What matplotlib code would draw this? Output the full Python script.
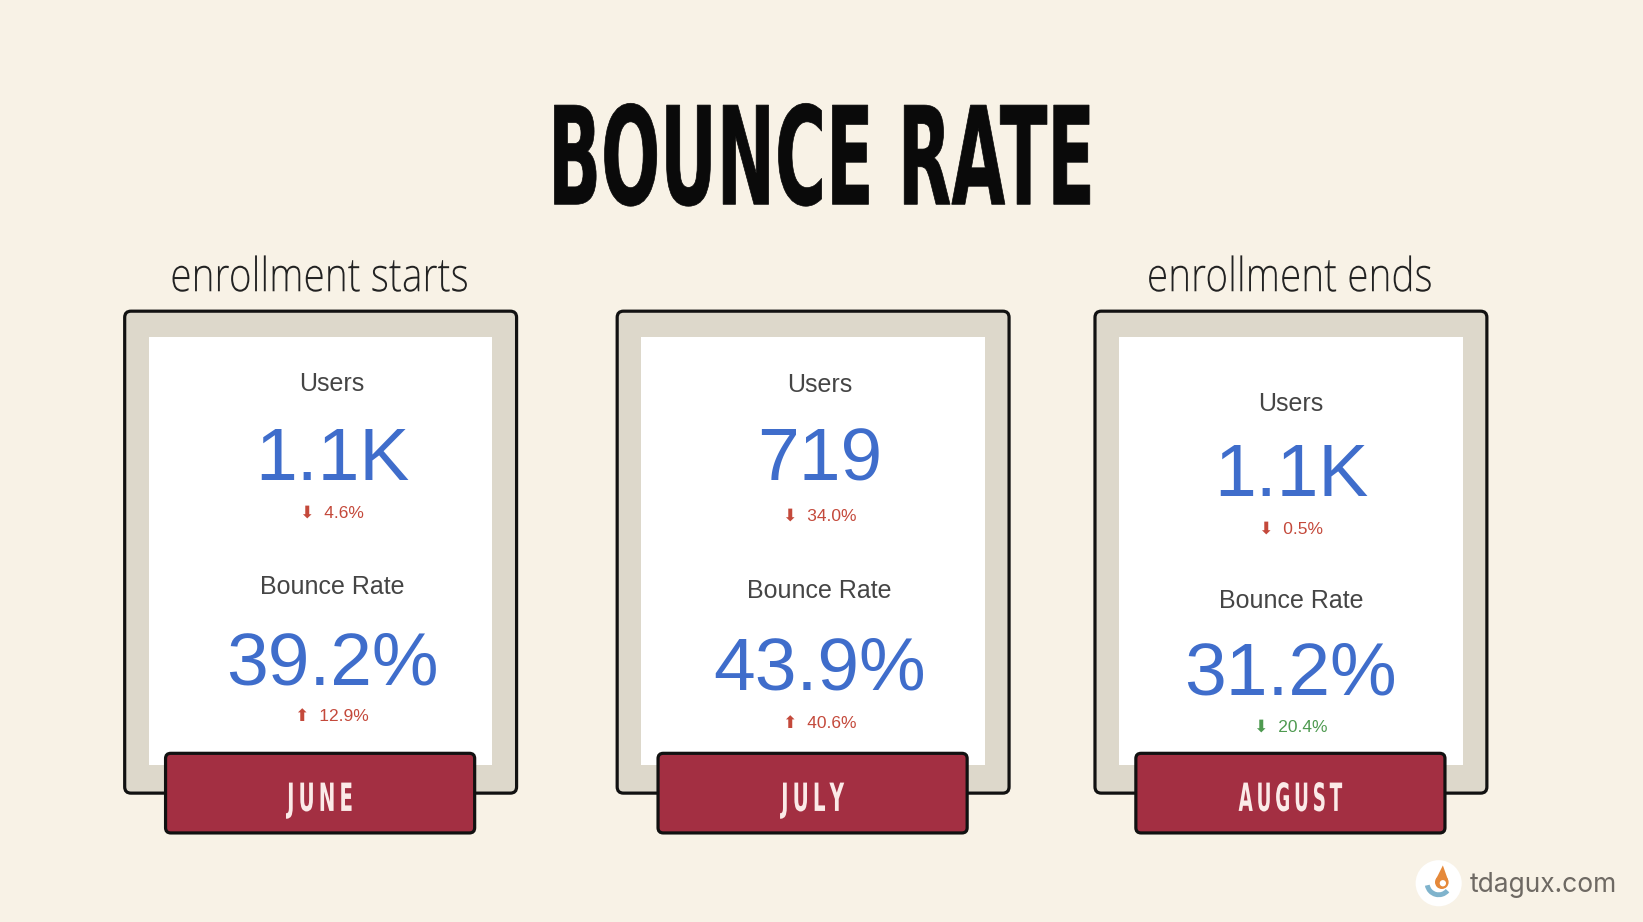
import matplotlib
matplotlib.use("Agg")
import matplotlib.pyplot as plt
from matplotlib.patches import FancyBboxPatch, Circle, Arc, Polygon
from matplotlib.patheffects import AbstractPathEffect
from matplotlib.transforms import Affine2D

# Datos de las tarjetas
MONTHS = ['JUNE', 'JULY', 'AUGUST']
NOTES = ['enrollment starts', '', 'enrollment ends']
USERS = ['1.1K', '719', '1.1K']
USERS_CHANGE = ['4.6%', '34.0%', '0.5%']
USERS_UP = [False, False, False]
BOUNCE = ['39.2%', '43.9%', '31.2%']
BOUNCE_CHANGE = ['12.9%', '40.6%', '20.4%']
BOUNCE_UP = [True, True, False]

# Layout (unidades del diseño 1568 x 880)
W, H = 1568, 880
OUT_W, OUT_H = 1643, 922
PX = OUT_W / W
CARD_X = [119, 589, 1045]
CARD_TOP, CARD_W, CARD_H = 297, 374, 460
TEXT_X = [317, 782, 1232]
ROWS = [[373, 458, 494, 567, 653, 688],
        [374, 459, 497, 571, 658, 695],
        [392, 473, 509, 580, 663, 698]]
MONTH_W = [63, 60, 99]
NOTE_W = [285, 0, 273]

BG = '#F8F2E6'
CARD_BG = '#DDD8CB'
RED_LABEL = '#A32F42'
BLUE = '#3F6DCB'
GREY = '#454545'
BAD = '#C4493B'
GOOD = '#4E9A50'
CONDENSED = ['DejaVu Sans']


class Squeeze(AbstractPathEffect):
    """Comprime el texto en horizontal alrededor de cx (px de pantalla)"""
    def __init__(self, sx, cx, stroke=0.0):
        super().__init__()
        self.sx, self.cx, self.stroke = sx, cx, stroke

    def draw_path(self, renderer, gc, tpath, affine, rgbFace=None):
        t = affine + Affine2D().translate(-self.cx, 0).scale(self.sx, 1).translate(self.cx, 0)
        gc0 = renderer.new_gc()
        gc0.copy_properties(gc)
        if self.stroke:
            gc0.set_linewidth(self.stroke)
            gc0.set_foreground(rgbFace)
            gc0.set_joinstyle('miter')
        renderer.draw_path(gc0, tpath, t, rgbFace)
        gc0.restore()


fig = plt.figure(figsize=(OUT_W / 100, OUT_H / 100), dpi=100, facecolor=BG)
ax = fig.add_axes([0, 0, 1, 1])
ax.set_xlim(0, W)
ax.set_ylim(H, 0)
ax.axis('off')
ax.set_facecolor(BG)


def squeeze(t, width, stroke=0.0):
    r = fig.canvas.get_renderer()
    w = t.get_window_extent(r).width
    cx = ax.transData.transform((t.get_position()[0], 0))[0]
    t.set_path_effects([Squeeze(width * PX / w, cx, stroke)])


# Titulo
t = ax.text(784, 195, 'BOUNCE RATE', ha='center', va='baseline', fontsize=98,
            fontweight='bold', family=CONDENSED, color='#0A0A0A')
squeeze(t, 522, stroke=0.5)

for i in range(len(MONTHS)):
    x0 = CARD_X[i]
    # marco
    ax.add_patch(FancyBboxPatch((x0, CARD_TOP), CARD_W, CARD_H,
                                boxstyle='round,pad=0,rounding_size=6',
                                fc=CARD_BG, ec='#111111', lw=2.3, zorder=1))
    ax.add_patch(FancyBboxPatch((x0 + 23, CARD_TOP + 25), 328, 408,
                                boxstyle='square,pad=0', fc='white', ec='none', zorder=2))
    # etiqueta del mes
    ax.add_patch(FancyBboxPatch((x0 + 39, 719), 295, 76,
                                boxstyle='round,pad=0,rounding_size=5',
                                fc=RED_LABEL, ec='#111111', lw=2.3, zorder=3))
    cx = x0 + 39 + 295 / 2
    t = ax.text(cx, 774, '\u2009'.join(MONTHS[i]), ha='center', va='baseline', fontsize=28,
                fontweight='bold', family=CONDENSED, color='#FBEAE8', zorder=4)
    squeeze(t, MONTH_W[i])

    if NOTES[i]:
        t = ax.text(x0 + CARD_W / 2 - 1, 278, NOTES[i], ha='center', va='baseline',
                    fontsize=34, fontweight='light', family=['Open Sans', 'DejaVu Sans'],
                    color='#222222')
        squeeze(t, NOTE_W[i])

    tx = TEXT_X[i]
    y = ROWS[i]
    ax.text(tx, y[0], 'Users', ha='center', va='baseline', fontsize=18,
            family='Liberation Sans', color=GREY, zorder=4)
    ax.text(tx, y[1], USERS[i], ha='center', va='baseline', fontsize=54,
            family='Liberation Sans', color=BLUE, zorder=4)
    arrow = '⬆' if USERS_UP[i] else '⬇'
    ax.text(tx, y[2], arrow + '  ' + USERS_CHANGE[i], ha='center', va='baseline',
            fontsize=12.5, family=['Liberation Sans', 'DejaVu Sans'],
            color=GOOD if USERS_UP[i] else BAD, zorder=4)
    ax.text(tx, y[3], 'Bounce Rate', ha='center', va='baseline', fontsize=18,
            family='Liberation Sans', color=GREY, zorder=4)
    ax.text(tx, y[4], BOUNCE[i], ha='center', va='baseline', fontsize=54,
            family='Liberation Sans', color=BLUE, zorder=4)
    arrow = '⬆' if BOUNCE_UP[i] else '⬇'
    ax.text(tx, y[5], arrow + '  ' + BOUNCE_CHANGE[i], ha='center', va='baseline',
            fontsize=12.5, family=['Liberation Sans', 'DejaVu Sans'],
            color=BAD if BOUNCE_UP[i] else GOOD, zorder=4)

# Logo
ax.add_patch(Circle((1373, 843), 22, fc='white', ec='none', zorder=2))
ax.add_patch(Arc((1373, 843), 22, 22, theta1=40, theta2=170, lw=3.5,
                 color='#7FB3CC', zorder=3))
ax.add_patch(Circle((1376, 842), 6.5, fc='#E5893A', ec='none', zorder=3))
ax.add_patch(Polygon([[1370, 840], [1382, 840], [1377, 826]], closed=True,
                     fc='#E5893A', ec='none', zorder=3))
ax.add_patch(Circle((1377, 843), 3, fc='white', ec='none', zorder=3))
ax.text(1403, 851, 'tdagux.com', ha='left', va='baseline', fontsize=19,
        family=['Inter', 'DejaVu Sans'], color='#6E6963')

fig.savefig('out.png', dpi=100, facecolor=BG)
